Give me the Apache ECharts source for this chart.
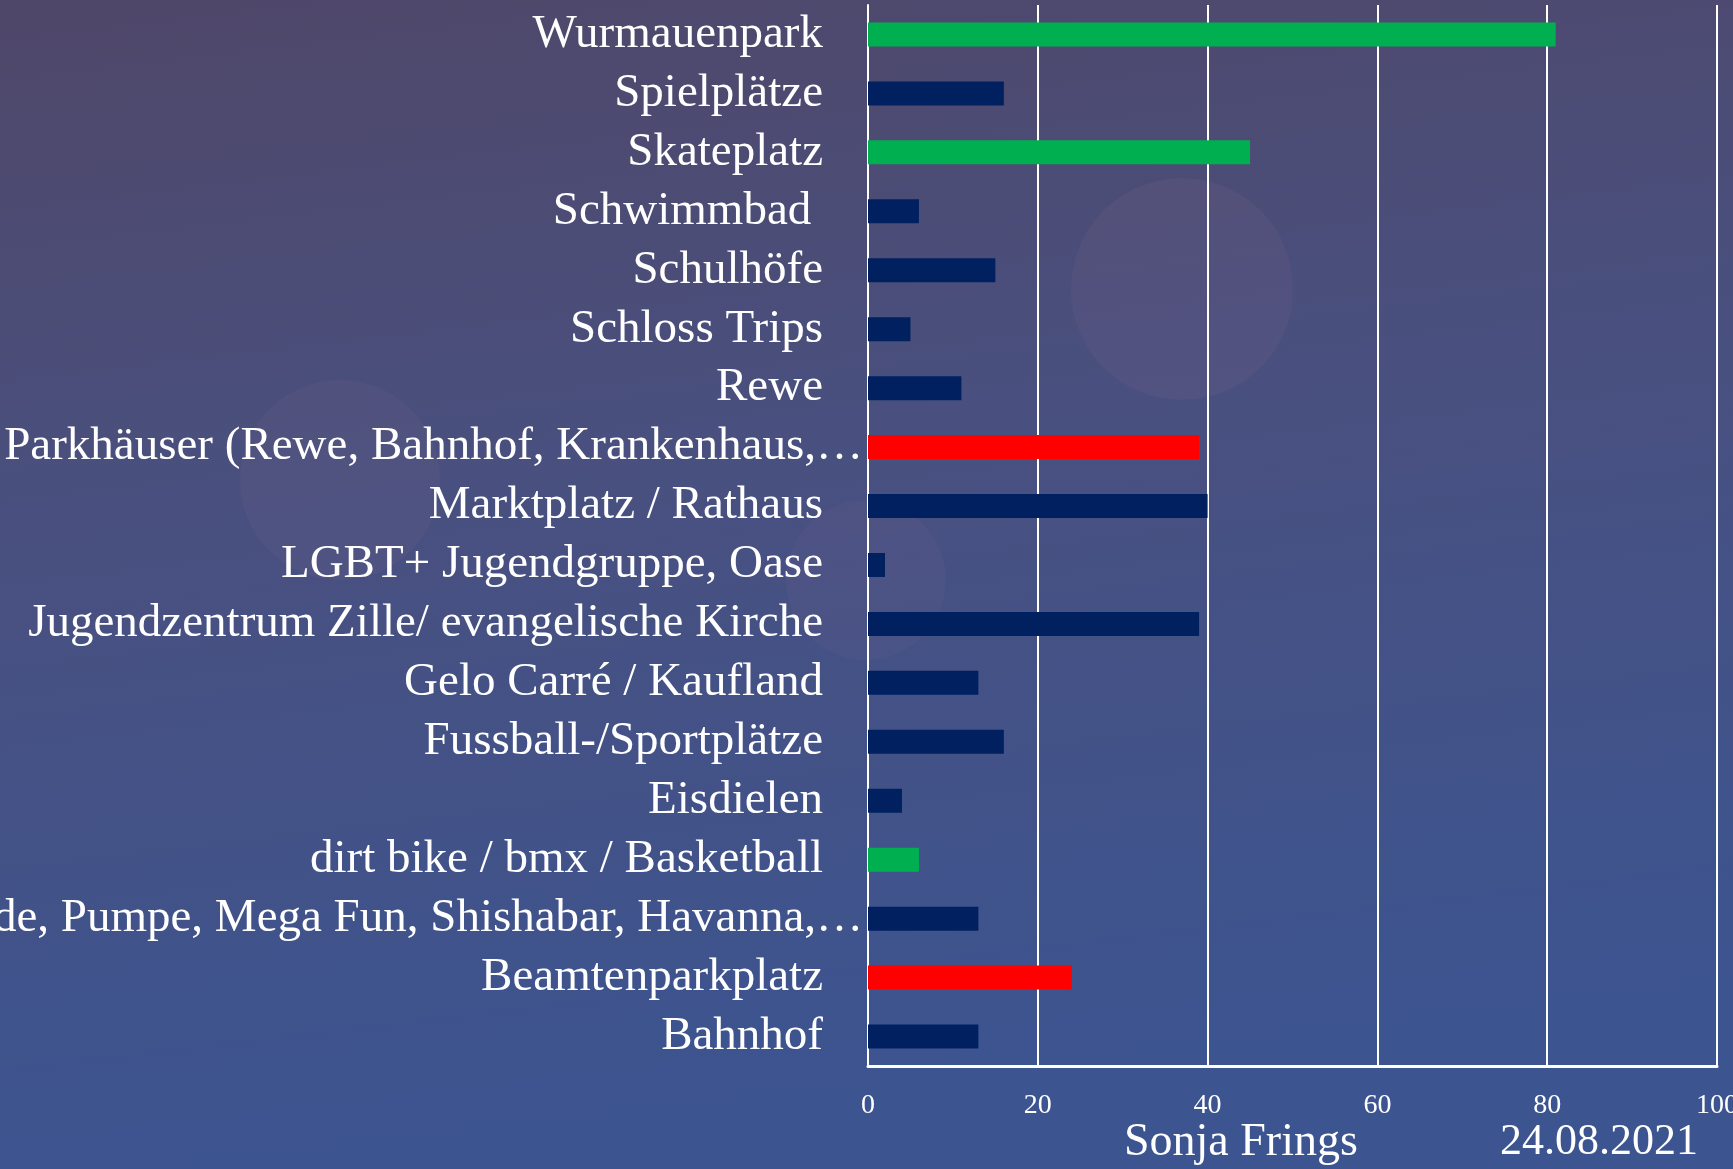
<!DOCTYPE html>
<html>
<head>
<meta charset="utf-8">
<script src="https://cdn.jsdelivr.net/npm/echarts@6/dist/echarts.min.js"></script>
<style>
  html, body { margin: 0; padding: 0; }
  #chart { width: 1733px; height: 1169px; }
</style>
</head>
<body>
<div id="chart"></div>
<script>
// Kategorien von unten nach oben (wie im Excel-Diagramm)
var places = [
    'Bahnhof',
    'Beamtenparkplatz',
    'Spielhalle, Promenade, Pumpe, Mega Fun, Shishabar, Havanna,\u2026',
    'dirt bike / bmx / Basketball',
    'Eisdielen',
    'Fussball-/Sportplätze',
    'Gelo Carré / Kaufland',
    'Jugendzentrum Zille/ evangelische Kirche',
    'LGBT+ Jugendgruppe, Oase',
    'Marktplatz / Rathaus',
    'Parkhäuser (Rewe, Bahnhof, Krankenhaus,\u2026',
    'Rewe',
    'Schloss Trips',
    'Schulhöfe',
    'Schwimmbad ',
    'Skateplatz',
    'Spielplätze',
    'Wurmauenpark'
];
var counts = [13, 24, 13, 6, 4, 16, 13, 39, 2, 40, 39, 11, 5, 15, 6, 45, 16, 81];

// markierte Orte
var greenPlaces = ['Wurmauenpark', 'Skateplatz', 'dirt bike / bmx / Basketball'];
var redPlaces = ['Beamtenparkplatz', 'Parkhäuser (Rewe, Bahnhof, Krankenhaus,\u2026'];
var cutLabels = [places[2], places[10]];

var xTicks = [0, 20, 40, 60, 80, 100];

var font = '"Liberation Serif", "DejaVu Serif", serif';

function barColor(name) {
    if (greenPlaces.indexOf(name) >= 0) return '#00b050';
    if (redPlaces.indexOf(name) >= 0) return '#ff0000';
    return '#002060';
}

var chart = echarts.init(document.getElementById('chart'));

var option = {
    backgroundColor: {
        type: 'linear', x: 0, y: 0, x2: 0.08, y2: 1,
        colorStops: [
            { offset: 0, color: '#4f4769' },
            { offset: 0.45, color: '#49507f' },
            { offset: 1, color: '#3c5490' }
        ]
    },
    animation: false,
    graphic: [
        { type: 'circle', z: -10, shape: { cx: 1182, cy: 289, r: 111 }, style: { fill: 'rgba(140,110,150,0.13)' } },
        { type: 'circle', z: -10, shape: { cx: 340, cy: 480, r: 100 }, style: { fill: 'rgba(140,110,150,0.11)' } },
        { type: 'circle', z: -10, shape: { cx: 866, cy: 580, r: 80 }, style: { fill: 'rgba(140,110,150,0.09)' } },
        {
            type: 'text', left: 1124, top: 1120,
            style: { text: 'Sonja Frings', fill: '#fff', font: '46px ' + font }
        },
        {
            type: 'text', left: 1500, top: 1120,
            style: { text: '24.08.2021', fill: '#fff', font: '44px ' + font }
        }
    ],
    grid: {
        left: 868,
        right: 16,
        top: 5,
        bottom: 103,
        containLabel: false,
        outerBoundsMode: 'none'
    },
    xAxis: {
        type: 'value',
        min: 0,
        max: 100,
        interval: 20,
        axisLine: { show: true, lineStyle: { color: '#fff', width: 3 } },
        axisTick: { show: false },
        splitLine: { lineStyle: { color: '#fff', width: 2 } },
        axisLabel: {
            color: '#fff',
            fontFamily: font,
            fontSize: 28,
            margin: 26,
            formatter: function (v) { return xTicks.indexOf(v) >= 0 ? String(v) : ''; }
        }
    },
    yAxis: {
        type: 'category',
        data: places.map(function (p) {
            if (cutLabels.indexOf(p) >= 0) {
                return { value: p, textStyle: { padding: [0, -40, 0, 0] } };
            }
            return p;
        }),
        axisLine: { show: true, lineStyle: { color: '#fff', width: 2 } },
        axisTick: { show: false },
        axisLabel: {
            interval: 0,
            color: '#fff',
            fontFamily: font,
            fontSize: 47,
            margin: 45
        }
    },
    series: [
        {
            type: 'bar',
            barWidth: 24,
            data: counts.map(function (v, i) {
                return { value: v, itemStyle: { color: barColor(places[i]) } };
            })
        }
    ]
};

chart.setOption(option);
</script>
</body>
</html>
